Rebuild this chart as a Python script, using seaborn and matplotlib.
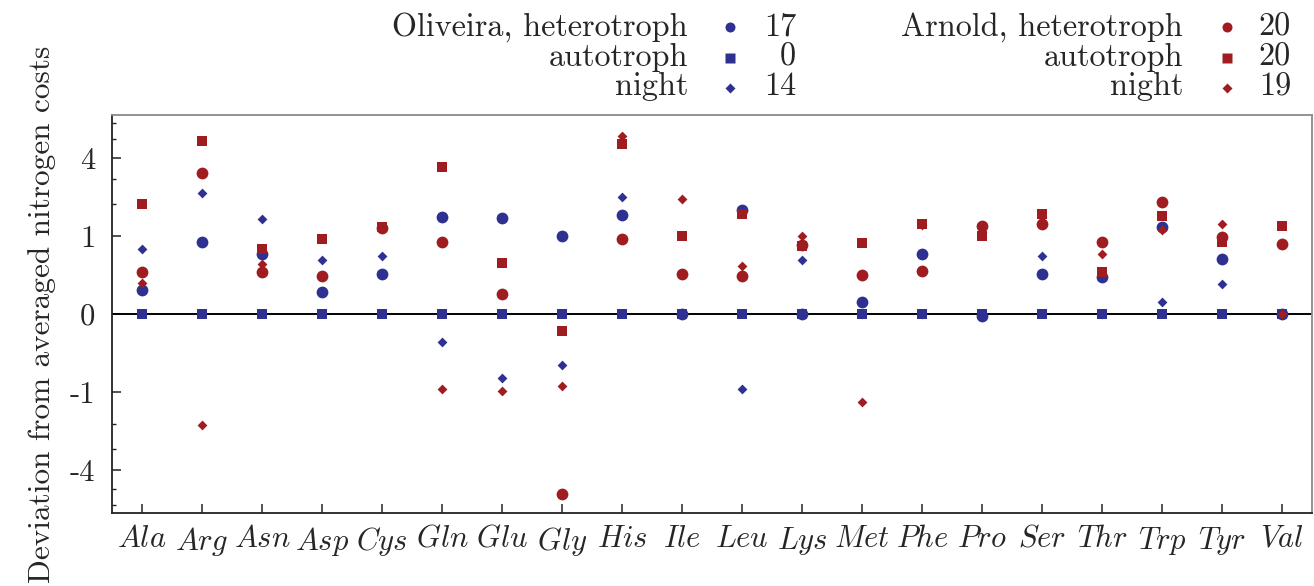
import numpy as np
import pandas as pd
import matplotlib.pyplot as plt
import seaborn as sns
from matplotlib.lines import Line2D

# amino acids along the x axis
amino_acids = ['Ala', 'Arg', 'Asn', 'Asp', 'Cys', 'Gln', 'Glu', 'Gly', 'His', 'Ile',
               'Leu', 'Lys', 'Met', 'Phe', 'Pro', 'Ser', 'Thr', 'Trp', 'Tyr', 'Val']

# deviation from averaged nitrogen costs
oliveira_het = [0.095, 0.86, 0.59, 0.077, 0.26, 1.54, 1.51, 0.99, 1.60, 0.0,
                1.78, 0.0, 0.025, 0.60, -0.0005, 0.26, 0.23, 1.25, 0.49, 0.0]
oliveira_aut = [0.0, 0.0, 0.0, 0.0, 0.0, 0.0, 0.0, 0.0, 0.0, 0.0,
                0.0, 0.0, 0.0, 0.0, 0.0, 0.0, 0.0, 0.0, 0.0, 0.0]
oliveira_night = [0.70, 2.39, 1.47, 0.47, 0.56, -0.126, -0.68, -0.42, 2.26, 0.0,
                  -0.92, 0.48, 0.0, 0.0, 0.0, 0.56, 0.0, 0.022, 0.145, 0.0]
arnold_het = [0.294, 3.24, 0.29, 0.24, 1.20, 0.86, 0.066, -5.31, 0.93, 0.26,
              0.24, 0.77, 0.25, 0.31, 1.28, 1.32, 0.84, 2.07, 0.98, 0.80]
arnold_aut = [1.99, 4.90, 0.70, 0.93, 1.23, 3.55, 0.43, -0.046, 4.75, 0.99,
              1.65, 0.75, 0.83, 1.34, 0.99, 1.63, 0.29, 1.56, 0.86, 1.26]
arnold_night = [0.161, -2.01, 0.41, 0.24, 1.20, -0.93, -0.97, -0.84, 5.17, 2.16,
                0.38, 1.00, -1.26, 1.30, 1.10, 1.55, 0.59, 1.16, 1.32, 0.0]

# legend text
legend_labels = [['Oliveira, heterotroph', 'autotroph', 'night'],
                 ['Arnold, heterotroph', 'autotroph', 'night']]
legend_counts = [['17', '0', '14'], ['20', '20', '19']]

y_major = [-4, -1, 0, 1, 4]
y_minor = [-6, -5, -3, -2, 2, 3, 5, 6]

BLUE = '#2e3192'
RED = '#9f1d20'

sns.set_theme(style='ticks')
plt.rcParams['font.family'] = ['cmr10', 'DejaVu Serif']
plt.rcParams['mathtext.fontset'] = 'cm'
plt.rcParams['axes.unicode_minus'] = False
plt.rcParams['axes.formatter.use_mathtext'] = True


def signed_sqrt(x):
    x = np.asarray(x, dtype=float)
    return np.sign(x) * np.sqrt(np.abs(x))


def signed_square(x):
    x = np.asarray(x, dtype=float)
    return np.sign(x) * x ** 2


fig, ax = plt.subplots(figsize=(13.14, 5.86), dpi=100)
fig.subplots_adjust(left=0.0852, right=0.9985, bottom=0.1246, top=0.8038)

ax.set_yscale('function', functions=(signed_sqrt, signed_square))
ax.axhline(0, color='black', lw=1.4, zorder=2)

# marker style per condition: (marker, size in pt^2)
styles = {'heterotroph': ('o', 72), 'autotroph': ('s', 56), 'night': ('D', 25)}

# plot order matters for overlaps
series = [
    (oliveira_het, BLUE, 'heterotroph'),
    (oliveira_aut, BLUE, 'autotroph'),
    (oliveira_night, BLUE, 'night'),
    (arnold_night, RED, 'night'),
    (arnold_het, RED, 'heterotroph'),
    (arnold_aut, RED, 'autotroph'),
]
for vals, col, cond in series:
    m, s = styles[cond]
    sns.scatterplot(x=amino_acids, y=vals, marker=m, s=s, color=col,
                    linewidth=0, ax=ax, zorder=3)

ax.set_xlim(-0.5, len(amino_acids) - 0.5)
ax.set_ylim(-6.5, 6.5)
ax.set_xticks(range(len(amino_acids)), labels=[f'${a}$' for a in amino_acids])
ax.set_yticks(y_major, labels=[str(t) for t in y_major])
ax.set_yticks(y_minor, minor=True)

ax.tick_params(axis='both', which='major', direction='in', length=6.3, width=1.1,
               color='#222222', labelsize=22)
ax.tick_params(axis='y', which='major', pad=12)
ax.tick_params(axis='x', which='major', pad=9)
ax.tick_params(axis='y', which='minor', direction='in', length=3.2, width=1.0, color='#222222')
ax.tick_params(top=False, right=False)

for side in ['left', 'bottom']:
    ax.spines[side].set_color('#222222')
    ax.spines[side].set_linewidth(1.3)
for side in ['top', 'right']:
    ax.spines[side].set_color('#8a8a8a')
    ax.spines[side].set_linewidth(1.3)

ax.set_ylabel('Deviation from averaged nitrogen costs', fontsize=22.5, labelpad=10)
ax.grid(False)

# manual legend above the axes: label, marker, count
W, H = 1314, 586
label_x = [688, 1183]
marker_x = [730, 1227]
count_x = [796, 1291]
baselines = [36, 66, 95]
marker_y = [27, 58, 88]
legend_markers = [('o', 7.2), ('s', 7.0), ('D', 4.6)]
for g, col in enumerate([BLUE, RED]):
    for r in range(3):
        fig.text(label_x[g] / W, 1 - baselines[r] / H, legend_labels[g][r],
                 ha='right', va='baseline', fontsize=23.2)
        fig.text(count_x[g] / W, 1 - baselines[r] / H, legend_counts[g][r],
                 ha='right', va='baseline', fontsize=23.2)
        mk, ms = legend_markers[r]
        fig.add_artist(Line2D([marker_x[g] / W], [1 - marker_y[r] / H],
                              transform=fig.transFigure, marker=mk, ms=ms,
                              color=col, mec='none', ls='none'))

fig.savefig('out.png', dpi=100)
